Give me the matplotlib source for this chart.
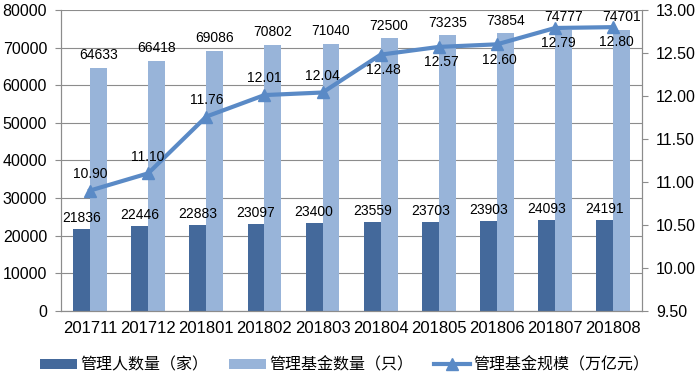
import matplotlib
matplotlib.use("Agg")
import matplotlib.pyplot as plt
import numpy as np

months = ["201711", "201712", "201801", "201802", "201803",
          "201804", "201805", "201806", "201807", "201808"]
managers = [21836, 22446, 22883, 23097, 23400, 23559, 23703, 23903, 24093, 24191]
funds = [64633, 66418, 69086, 70802, 71040, 72500, 73235, 73854, 74777, 74701]
scale = [10.90, 11.10, 11.76, 12.01, 12.04, 12.48, 12.57, 12.60, 12.79, 12.80]

DARK = "#44699B"
LIGHT = "#98B4D9"
LINE = "#5A8AC6"
GRID = "#8C8C8C"

plt.rcParams['font.family'] = ['Liberation Sans', 'Noto Sans CJK SC', 'DejaVu Sans']

fig = plt.figure(figsize=(6.97, 3.82), dpi=100)
ax = fig.add_axes([0.0875, 0.186, 0.834, 0.788])
ax2 = ax.twinx()

x = np.arange(len(months))
w = 0.29
b1 = ax.bar(x - w / 2, managers, w, color=DARK, label="管理人数量（家）", zorder=2)
b2 = ax.bar(x + w / 2, funds, w, color=LIGHT, label="管理基金数量（只）", zorder=2)

for xi, v in zip(x, managers):
    ax.annotate(str(v), (xi - w / 2, v), xytext=(0, 3), textcoords="offset points",
                ha="center", va="bottom", fontsize=10)
for xi, v in zip(x, funds):
    ax.annotate(str(v), (xi + w / 2, v), xytext=(0, 4), textcoords="offset points",
                ha="center", va="bottom", fontsize=10)

ln, = ax2.plot(x, scale, color=LINE, lw=3, marker="^", markersize=8,
               label="管理基金规模（万亿元）", zorder=3)
for i, (xi, v) in enumerate(zip(x, scale)):
    if i < 5:
        ax2.annotate(f"{v:.2f}", (xi, v), xytext=(0, 7), textcoords="offset points",
                     ha="center", va="bottom", fontsize=10)
    else:
        ax2.annotate(f"{v:.2f}", (xi, v), xytext=(2, -6), textcoords="offset points",
                     ha="center", va="top", fontsize=10)

ax.set_xlim(-0.5, len(months) - 0.5)
ax.set_ylim(0, 80000)
ax.set_yticks(np.arange(0, 80001, 10000))
ax2.set_ylim(9.5, 13.0)
ax2.set_yticks(np.arange(9.5, 13.01, 0.5))
ax2.set_yticklabels([f"{t:.2f}" for t in np.arange(9.5, 13.01, 0.5)])
ax.set_xticks(x)
ax.set_xticklabels(months, fontsize=12)
ax.tick_params(axis="x", length=0, pad=7)
ax.tick_params(axis="y", labelsize=11.5, length=4, color=GRID, pad=6)
ax2.tick_params(axis="y", labelsize=11.5, length=4, color=GRID, pad=6)

ax.yaxis.grid(True, color=GRID, lw=0.8, zorder=0)
ax.set_axisbelow(True)
for a in (ax, ax2):
    a.spines["top"].set_visible(False)
    for s in ("left", "right", "bottom"):
        a.spines[s].set_color(GRID)
        a.spines[s].set_linewidth(0.8)

fig.legend(handles=[b1, b2, ln], loc="center", bbox_to_anchor=(0.495, 0.045),
           ncol=3, frameon=False, handlelength=2.3, handleheight=0.6,
           columnspacing=1.3, handletextpad=0.2,
           prop={'family': ['Noto Sans CJK SC', 'DejaVu Sans'], 'size': 11.5})

fig.savefig("out.png", dpi=100)
